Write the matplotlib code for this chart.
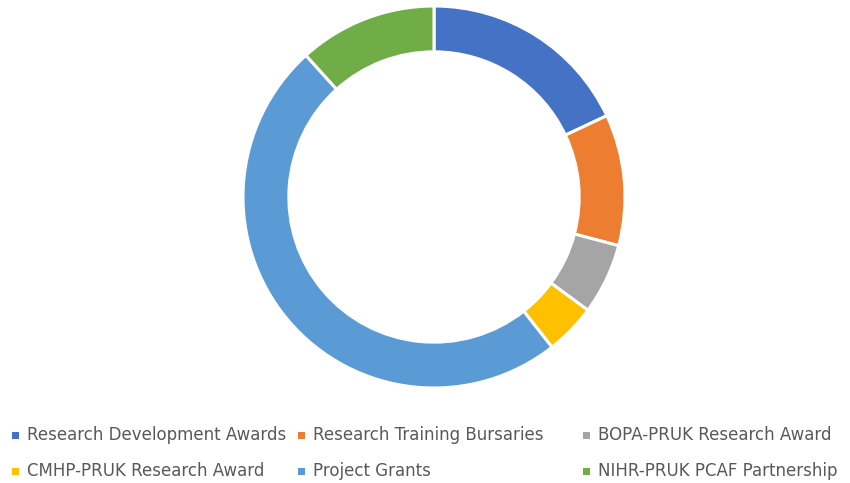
import matplotlib.pyplot as plt
from matplotlib.patches import Rectangle

labels = [
    "Research Development Awards",
    "Research Training Bursaries",
    "BOPA-PRUK Research Award",
    "CMHP-PRUK Research Award",
    "Project Grants",
    "NIHR-PRUK PCAF Partnership",
]
shares = [18.0, 11.1, 6.0, 4.3, 48.9, 11.7]
colors = ["#4472C4", "#ED7D31", "#A5A5A5", "#FFC000", "#5B9BD5", "#70AD47"]

plt.rcParams["font.family"] = ["DejaVu Sans"]

W, H = 850, 483
fig = plt.figure(figsize=(W / 100, H / 100), dpi=100)

# donut: centre ~(434,197) px, radius ~190 px
cx, cy, r = 434, 197, 191
ax = fig.add_axes([(cx - r) / W, (H - cy - r) / H, 2 * r / W, 2 * r / H])
ax.pie(shares, colors=colors, startangle=90, counterclock=False,
       radius=1.0, wedgeprops=dict(width=0.24, edgecolor="white", linewidth=2.2))
ax.set_xlim(-1, 1)
ax.set_ylim(-1, 1)
ax.set_aspect("equal")
ax.axis("off")

# legend entries laid out like the Excel legend (two rows, three columns)
slots = [(12, 435), (298, 435), (583, 435), (12, 471), (298, 471), (583, 471)]
for (x, y), lab, col in zip(slots, labels, colors):
    fig.patches.append(Rectangle((x / W, (H - y - 4) / H), 7 / W, 7 / H,
                                 transform=fig.transFigure, facecolor=col,
                                 edgecolor="none"))
    fig.text((x + 15) / W, (H - y) / H, lab, fontsize=12, color="#595959",
             ha="left", va="center")

fig.savefig("out.png", dpi=100)
